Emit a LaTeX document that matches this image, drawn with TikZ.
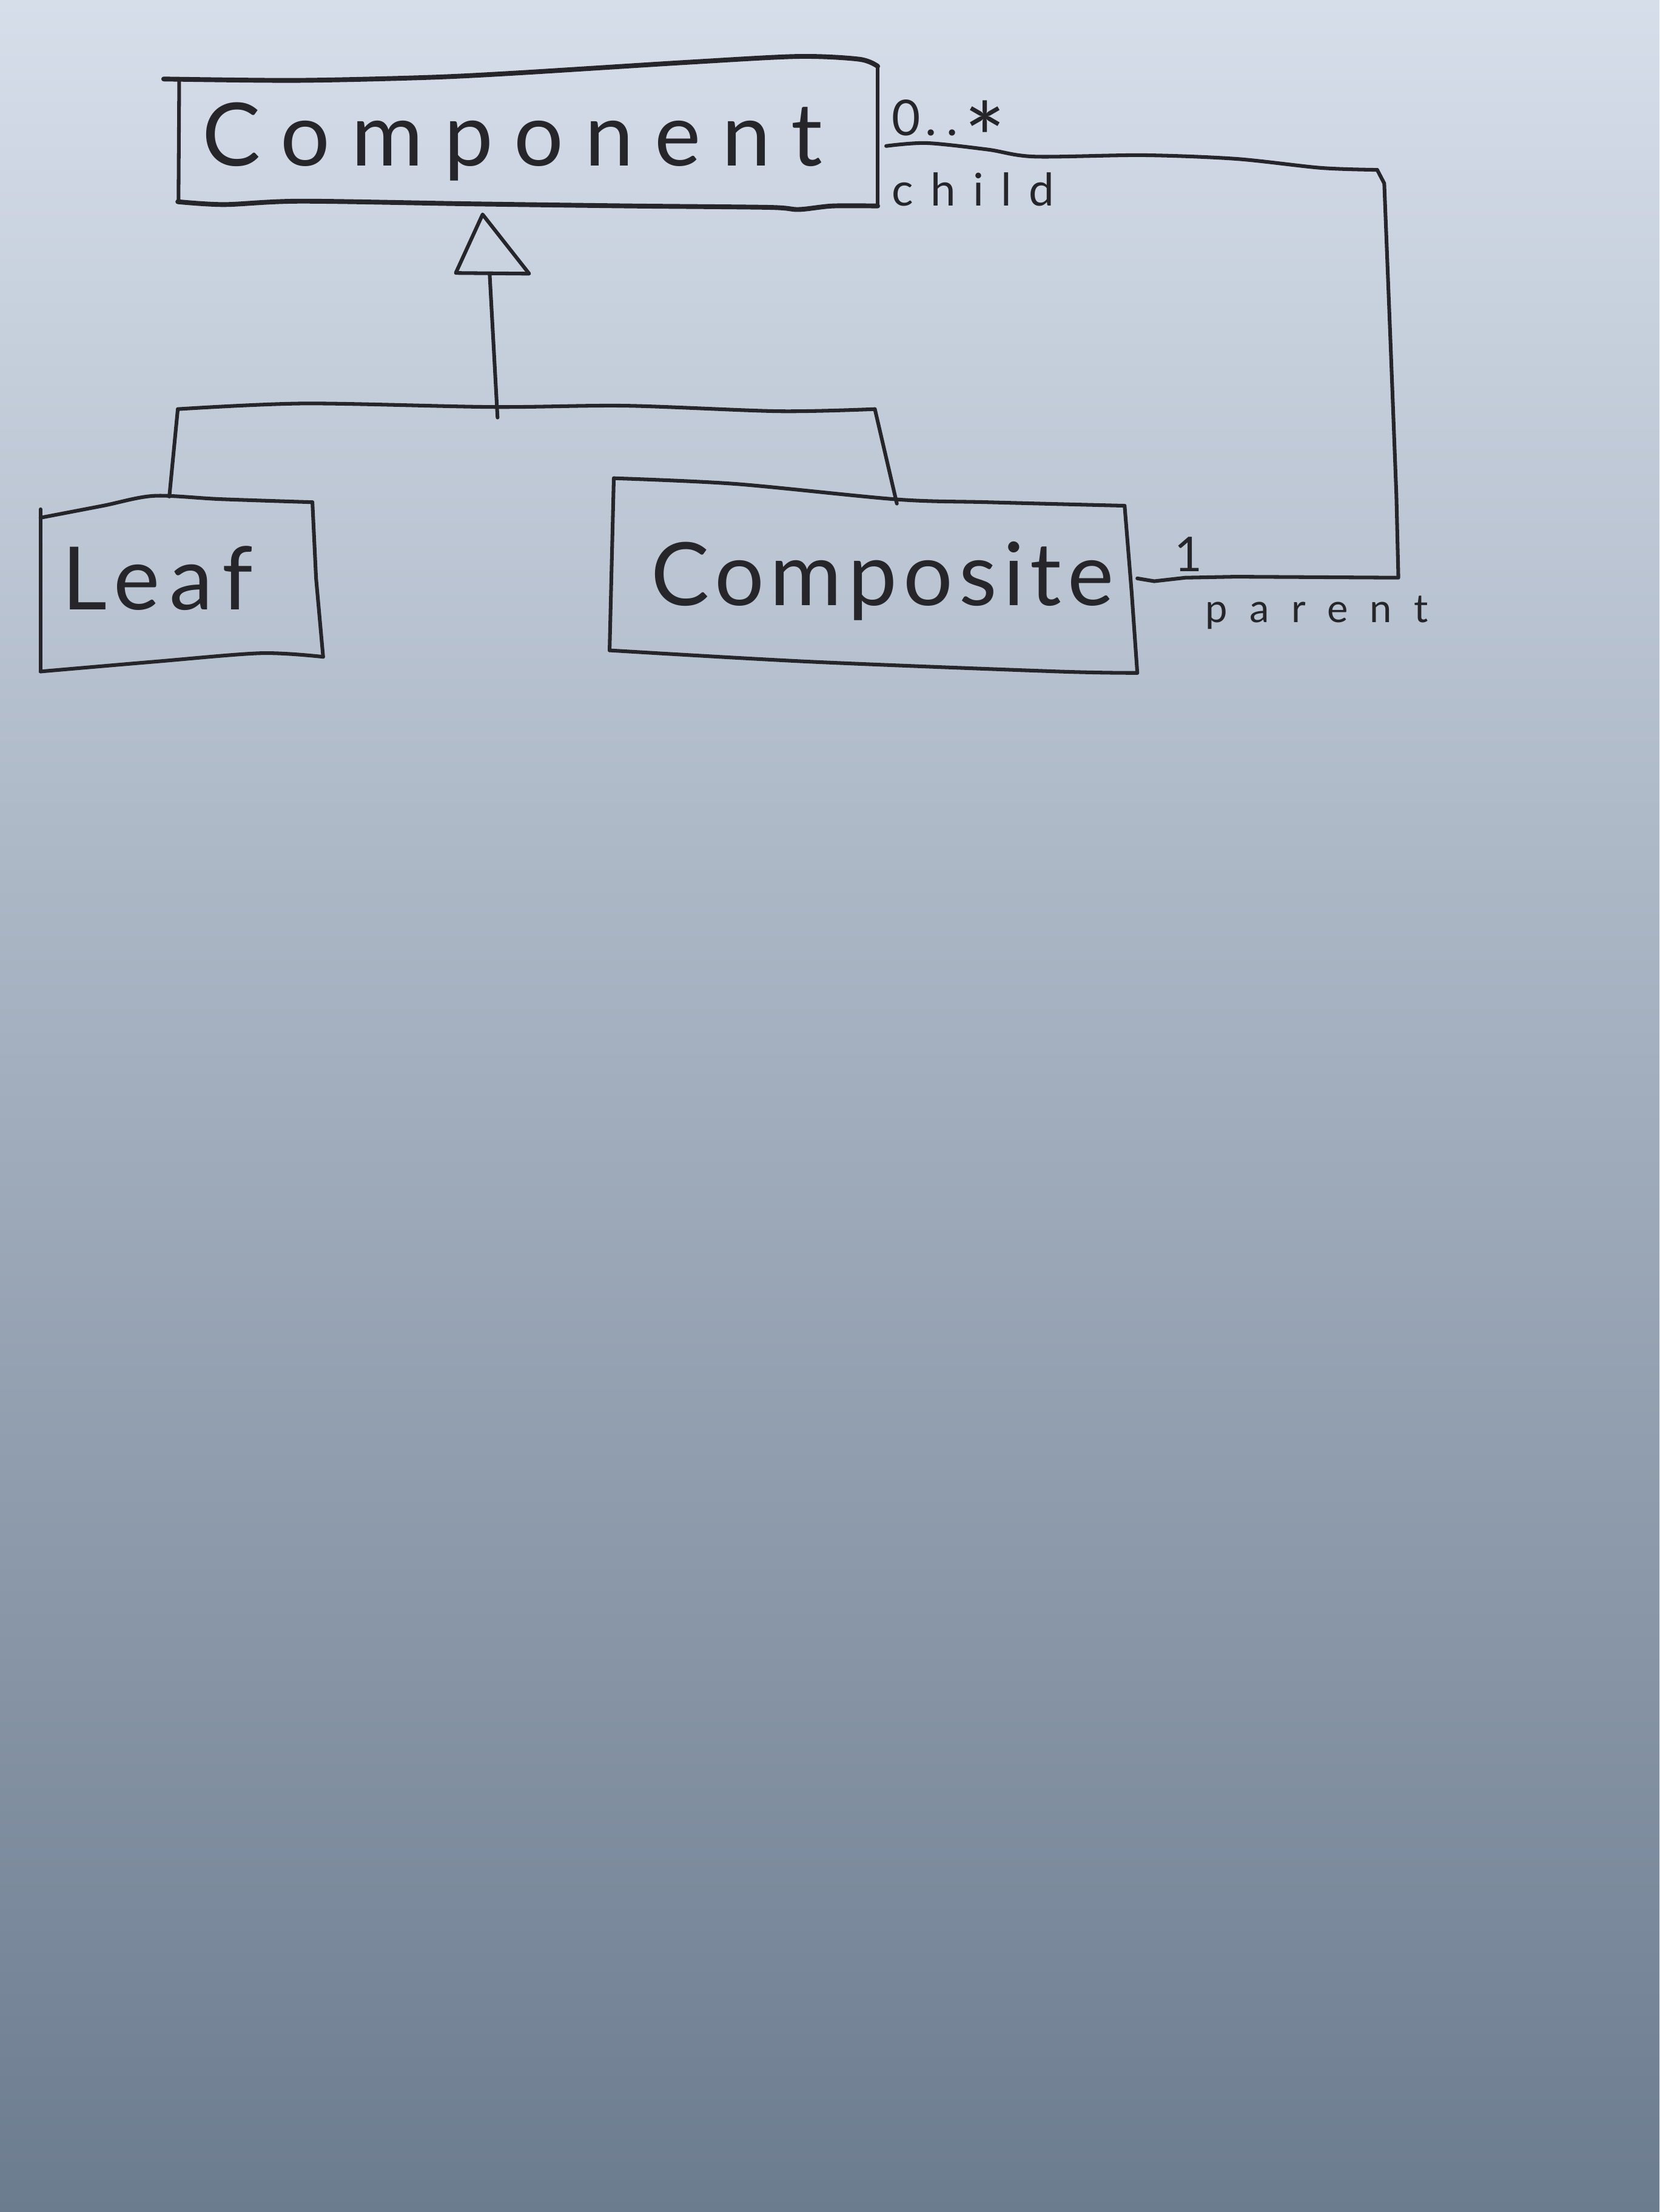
\documentclass[tikz,border=0pt]{standalone}
\usepackage{fontspec}
\setmainfont{Lato}

\definecolor{ink}{RGB}{38,38,42}
\definecolor{paperTop}{RGB}{214,222,234}
\definecolor{paperMid}{RGB}{172,184,201}
\definecolor{paperBot}{RGB}{108,124,143}

\begin{document}
\begin{tikzpicture}[x=1pt,y=-1pt,
  pen/.style={draw=ink,line width=2.6pt,line cap=round,line join=round},
  heavypen/.style={pen,line width=3.4pt},
  classname/.style={text=ink,inner sep=0pt,anchor=base west},
  rolename/.style={text=ink,inner sep=0pt,anchor=base west}]

% sheet of paper
\useasboundingbox (0,0) rectangle (1176,1568);
\shade[top color=paperTop, middle color=paperMid, bottom color=paperBot] (0,0) rectangle (1176,1568);

% ---------- class Component ----------
\draw[heavypen] plot[smooth] coordinates {(116,56) (209,57) (300,55) (362,52) (490,44) (566,40) (609,42) (622,47)};
\draw[pen] (622,47) -- (622,146);
\draw[heavypen] plot[smooth] coordinates {(126,143) (159,145) (213,142.6) (333,144.5) (447,146) (545,147) (566,148.5) (590,146) (622,146)};
\draw[pen] (127,57) -- (126.5,143);
\node[classname, font=\fontsize{62}{62}\selectfont\addfontfeatures{LetterSpace=24}] (component) at (143,117.5) {Component};

% ---------- class Leaf ----------
\draw[pen] plot[smooth] coordinates {(28.7,367) (73,358.5) (109,351.5) (156,353.8) (221.4,356)};
\draw[pen] (28.7,361) -- (28.7,476);
\draw[pen] (221.4,356) -- (224,410) -- (229,465.6);
\draw[pen] plot[smooth] coordinates {(229,465.6) (185,463) (110,469) (28.7,476)};
\node[classname, font=\fontsize{62}{62}\selectfont\addfontfeatures{LetterSpace=11}] (leaf) at (44,432) {Leaf};

% ---------- class Composite ----------
\draw[pen] plot[smooth] coordinates {(435,339) (521,343) (635.6,354) (700,356) (797,358.5)};
\draw[pen] (797,358.5) -- (802,420) -- (806,477);
\draw[pen] plot[smooth] coordinates {(806,477) (750,476) (573,469) (432,461)};
\draw[pen] (435,339) -- (432,461);
\node[classname, font=\fontsize{62}{62}\selectfont\addfontfeatures{LetterSpace=7}] (composite) at (461,429) {Composite};

% ---------- generalization ----------
\coordinate (genTip) at (342,152);
\coordinate (genL) at (323,193.5);
\coordinate (genR) at (375,194);
\coordinate (genFoot) at (347,194);
\coordinate (genJoin) at (352.6,296);
\coordinate (leafTop) at (120,352);
\coordinate (compositeTop) at (635.6,357);
\coordinate (barL) at (126,290);
\coordinate (barR) at (620,290);
\draw[pen] (genTip) -- (genL) -- (genR) -- cycle;
\draw[pen] (genFoot) -- (genJoin);
\draw[pen] plot[smooth] coordinates {(126,290) (216,286) (349,288.5) (443,287.6) (552,291.5) (620,290)};
\draw[pen] (barL) -- (leafTop);
\draw[pen] (barR) -- (compositeTop);

% ---------- association child / parent ----------
\coordinate (assocChild) at (628,103.5);
\coordinate (assocCorner) at (976,120.4);
\coordinate (assocParent) at (806,410);
\draw[pen] plot[smooth] coordinates {(628,103.5) (656.6,101.4) (700,106) (733,111) (810,110) (876,112.6) (936,119) (976,120.4)};
\draw[pen] (assocCorner) -- (981,130) -- (985.6,247) -- (989.6,351) -- (991,409.5)
  -- (876,408.8) -- (840,409.5) -- (818,412) -- (assocParent);

\node[rolename, font=\fontsize{35}{35}\selectfont] (multChild) at (632,96)
  {0\kern3pt.\kern7pt.\kern4pt\raisebox{-28pt}[0pt][0pt]{\fontsize{70}{70}\selectfont *}};
\node[rolename, font=\fontsize{32}{32}\selectfont\addfontfeatures{LetterSpace=38}] (roleChild) at (632,146) {child};
\node[rolename, font=\fontsize{34}{34}\selectfont] (multParent) at (832,405) {1};
\node[rolename, font=\fontsize{28}{28}\selectfont\addfontfeatures{LetterSpace=56}] (roleParent) at (854,441) {parent};

\end{tikzpicture}
\end{document}
